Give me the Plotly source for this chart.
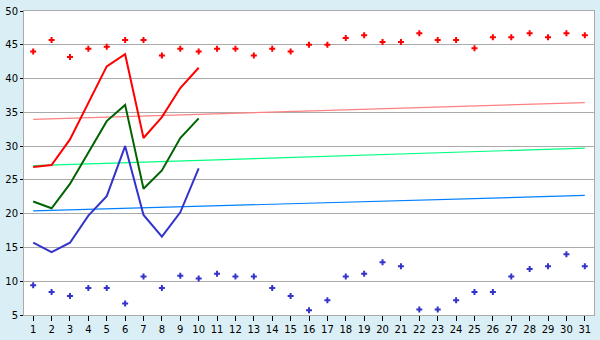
import plotly.graph_objects as go

days = list(range(1, 32))
line_days = list(range(1, 11))

record_high = [44.0, 45.7, 43.2, 44.4, 44.7, 45.7, 45.7, 43.4, 44.4, 44.0,
               44.4, 44.4, 43.4, 44.4, 44.0, 45.0, 45.0, 46.0, 46.4, 45.4,
               45.4, 46.7, 45.7, 45.7, 44.5, 46.1, 46.1, 46.7, 46.1, 46.7, 46.4]
record_low = [9.4, 8.4, 7.8, 9.0, 9.0, 6.7, 10.7, 9.0, 10.8, 10.4,
              11.1, 10.7, 10.7, 9.0, 7.8, 5.7, 7.2, 10.7, 11.1, 12.8,
              12.2, 5.8, 5.8, 7.2, 8.4, 8.4, 10.7, 11.8, 12.2, 14.0, 12.2]

max_temp = [26.9, 27.2, 31.0, 36.5, 41.8, 43.6, 31.2, 34.3, 38.6, 41.6]
mean_temp = [21.8, 20.8, 24.4, 29.1, 33.7, 36.1, 23.7, 26.4, 31.2, 34.1]
min_temp = [15.7, 14.3, 15.7, 19.7, 22.6, 30.0, 19.8, 16.6, 20.2, 26.7]

trend_days = [1, 31]
trend_max = [33.95, 36.45]
trend_mean = [27.1, 29.7]
trend_min = [20.4, 22.7]

fig = go.Figure()

fig.add_trace(go.Scatter(x=trend_days, y=trend_max, mode="lines",
                         line=dict(color="#ff8080", width=1.2)))
fig.add_trace(go.Scatter(x=trend_days, y=trend_mean, mode="lines",
                         line=dict(color="#00ff80", width=1.2)))
fig.add_trace(go.Scatter(x=trend_days, y=trend_min, mode="lines",
                         line=dict(color="#0080ff", width=1.2)))

fig.add_trace(go.Scatter(x=line_days, y=max_temp, mode="lines",
                         line=dict(color="#ff0000", width=2)))
fig.add_trace(go.Scatter(x=line_days, y=mean_temp, mode="lines",
                         line=dict(color="#006400", width=2)))
fig.add_trace(go.Scatter(x=line_days, y=min_temp, mode="lines",
                         line=dict(color="#3333cc", width=2)))

fig.add_trace(go.Scatter(x=days, y=record_high, mode="markers",
                         marker=dict(symbol="cross", size=5, color="#ff0000",
                                     line=dict(width=0))))
fig.add_trace(go.Scatter(x=days, y=record_low, mode="markers",
                         marker=dict(symbol="cross", size=5, color="#3333cc",
                                     line=dict(width=0))))

fig.update_layout(
    width=600, height=340,
    margin=dict(l=20, r=5, t=5, b=20),
    paper_bgcolor="#d9eff5",
    plot_bgcolor="#ffffff",
    showlegend=False,
    font=dict(family="DejaVu Sans", size=10, color="#000000"),
)
fig.update_xaxes(range=[0.5, 31.5], tickmode="array", tickvals=days,
                 ticktext=[str(d) for d in days],
                 showgrid=False, zeroline=False,
                 showline=True, linecolor="#aaaaaa", linewidth=1, mirror=True,
                 ticks="outside", ticklen=5, tickcolor="#000000")
fig.update_yaxes(range=[5, 50], tickmode="array", tickvals=list(range(5, 51, 5)),
                 showgrid=True, gridcolor="#aaaaaa", gridwidth=1, zeroline=False,
                 showline=True, linecolor="#aaaaaa", linewidth=1, mirror=True,
                 ticks="outside", ticklen=3, tickcolor="#000000")

fig.write_html("out.html")
